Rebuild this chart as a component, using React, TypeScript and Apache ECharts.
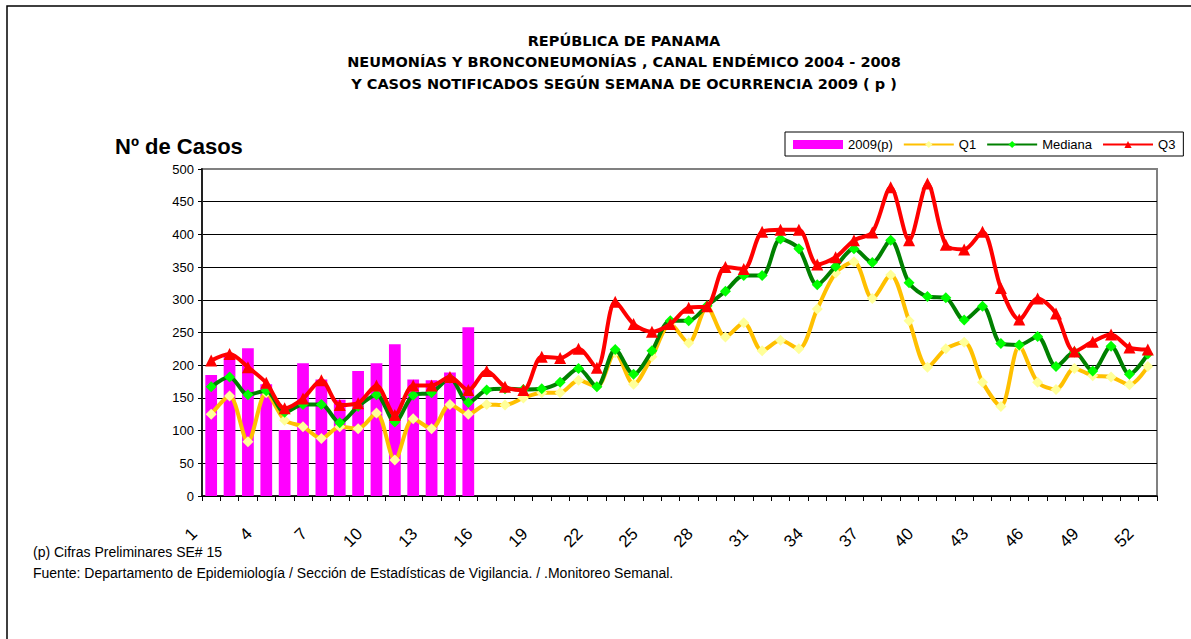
import React, { useEffect, useRef } from "react";
import * as echarts from "echarts";

const weeks = [
  "1", "2", "3", "4", "5", "6", "7", "8", "9", "10", "11", "12", "13",
  "14", "15", "16", "17", "18", "19", "20", "21", "22", "23", "24", "25", "26",
  "27", "28", "29", "30", "31", "32", "33", "34", "35", "36", "37", "38", "39",
  "40", "41", "42", "43", "44", "45", "46", "47", "48", "49", "50", "51", "52",
];

const casos2009 = [185, 213, 226, 171, 101, 203, 178, 147, 191, 203, 232, 178, 177, 189, 258];

const q1 = [
  125, 153, 83, 158, 116, 106, 88, 106, 103, 127, 55, 118, 103, 140, 125, 140, 139, 150,
  158, 158, 177, 167, 219, 171, 213, 263, 234, 289, 243, 265, 222, 238, 225, 286, 341, 358,
  302, 338, 268, 197, 225, 235, 174, 137, 229, 174, 163, 195, 184, 182, 170, 198,
];

const mediana = [
  167, 182, 155, 161, 128, 140, 140, 112, 137, 155, 113, 154, 158, 180, 143, 162, 164, 163,
  164, 174, 195, 167, 224, 186, 222, 268, 268, 291, 313, 337, 337, 393, 378, 323, 351, 378,
  357, 391, 326, 305, 303, 269, 290, 233, 231, 244, 198, 220, 191, 229, 186, 217,
];

const q3 = [
  207, 217, 197, 173, 134, 149, 177, 139, 142, 169, 124, 169, 169, 182, 162, 191, 167, 162,
  213, 211, 225, 196, 297, 263, 251, 263, 288, 290, 350, 347, 404, 407, 407, 354, 365, 391,
  403, 472, 391, 478, 384, 377, 404, 318, 270, 302, 279, 221, 236, 247, 227, 224,
];

const titleLines = [
  "REPÚBLICA DE PANAMA",
  "NEUMONÍAS Y BRONCONEUMONÍAS , CANAL ENDÉMICO 2004 - 2008",
  "Y CASOS NOTIFICADOS SEGÚN SEMANA DE OCURRENCIA 2009 ( p )",
];
const yAxisTitle = "Nº de Casos";
const notes = [
  "(p) Cifras Preliminares SE# 15",
  "Fuente: Departamento de Epidemiología / Sección de Estadísticas de Vigilancia. / .Monitoreo Semanal.",
];

const FONT = "'Liberation Sans', Arial, sans-serif";

export default function App() {
  const ref = useRef<HTMLDivElement>(null);

  useEffect(() => {
    if (!ref.current) return;
    const chart = echarts.init(ref.current, undefined, { renderer: "svg" });
    const titleY = [41, 62, 84];
    chart.setOption({
      animation: false,
      backgroundColor: "#ffffff",
      textStyle: { fontFamily: FONT },
      graphic: [
        {
          type: "rect",
          silent: true,
          shape: { x: 7, y: 6, width: 1300, height: 800 },
          style: { fill: "none", stroke: "#000", lineWidth: 1.5 },
        },
        ...titleLines.map((t, i) => ({
          type: "text",
          silent: true,
          x: 624,
          y: titleY[i],
          style: {
            text: t,
            textAlign: "center",
            textVerticalAlign: "middle",
            fontSize: 14.5,
            fontWeight: "bold",
            fontFamily: "'DejaVu Sans', sans-serif",
            fill: "#000",
          },
        })),
        {
          type: "text",
          silent: true,
          x: 115,
          y: 146,
          style: {
            text: yAxisTitle,
            textAlign: "left",
            textVerticalAlign: "middle",
            fontSize: 22,
            fontWeight: "bold",
            fontFamily: FONT,
            fill: "#000",
          },
        },
        ...notes.map((t, i) => ({
          type: "text",
          silent: true,
          x: 33,
          y: i === 0 ? 552 : 573,
          style: {
            text: t,
            textAlign: "left",
            textVerticalAlign: "middle",
            fontSize: 14,
            fontFamily: FONT,
            fill: "#000",
          },
        })),
      ],
      legend: {
        left: 785,
        top: 132,
        orient: "horizontal",
        borderColor: "#000",
        borderWidth: 1,
        padding: [6, 8, 5, 8],
        itemWidth: 50,
        itemHeight: 9,
        itemGap: 10,
        textStyle: { fontSize: 13, color: "#000", fontFamily: FONT },
        data: [
          { name: "2009(p)", icon: "rect" },
          { name: "Q1" },
          { name: "Mediana" },
          { name: "Q3" },
        ],
      },
      grid: {
        left: 202,
        top: 169,
        right: 34,
        bottom: 143,
        show: true,
        borderColor: "#808080",
        borderWidth: 2,
        backgroundColor: "transparent",
      },
      xAxis: {
        type: "category",
        data: weeks,
        boundaryGap: true,
        axisLine: { show: true, lineStyle: { color: "#000", width: 1.5 } },
        axisTick: { show: true, interval: 0, length: 5, lineStyle: { color: "#000" } },
        axisLabel: {
          interval: 2,
          rotate: 45,
          margin: 18,
          padding: [0, 24, 0, 0],
          fontSize: 17,
          color: "#000",
          fontFamily: FONT,
        },
        splitLine: { show: false },
      },
      yAxis: {
        type: "value",
        min: 0,
        max: 500,
        interval: 50,
        axisLine: { show: true, lineStyle: { color: "#222", width: 2 } },
        axisTick: { show: true, length: 4, lineStyle: { color: "#000" } },
        axisLabel: { fontSize: 13, color: "#000", margin: 8, fontFamily: FONT },
        splitLine: {
          show: true,
          showMaxLine: false,
          lineStyle: { color: "#000", width: 1 },
        },
      },
      series: [
        {
          name: "2009(p)",
          type: "bar",
          data: casos2009,
          barWidth: "64%",
          itemStyle: { color: "#FF00FF" },
          z: 1,
        },
        {
          name: "Q1",
          type: "line",
          data: q1,
          smooth: 0.3,
          symbol: "diamond",
          symbolSize: 11,
          lineStyle: { color: "#FFC000", width: 4 },
          itemStyle: { color: "#FFFF99", borderWidth: 0 },
          z: 3,
        },
        {
          name: "Mediana",
          type: "line",
          data: mediana,
          smooth: 0.3,
          symbol: "diamond",
          symbolSize: 11,
          lineStyle: { color: "#008000", width: 4 },
          itemStyle: { color: "#00FF00", borderWidth: 0 },
          z: 4,
        },
        {
          name: "Q3",
          type: "line",
          data: q3,
          smooth: 0.3,
          symbol: "triangle",
          symbolSize: 12,
          lineStyle: { color: "#FF0000", width: 4 },
          itemStyle: { color: "#FF0000", borderWidth: 0 },
          z: 5,
        },
      ],
    });
    return () => chart.dispose();
  }, []);

  return (
    <div
      ref={ref}
      style={{ position: "fixed", left: 0, top: 0, width: 1191, height: 639 }}
    />
  );
}
